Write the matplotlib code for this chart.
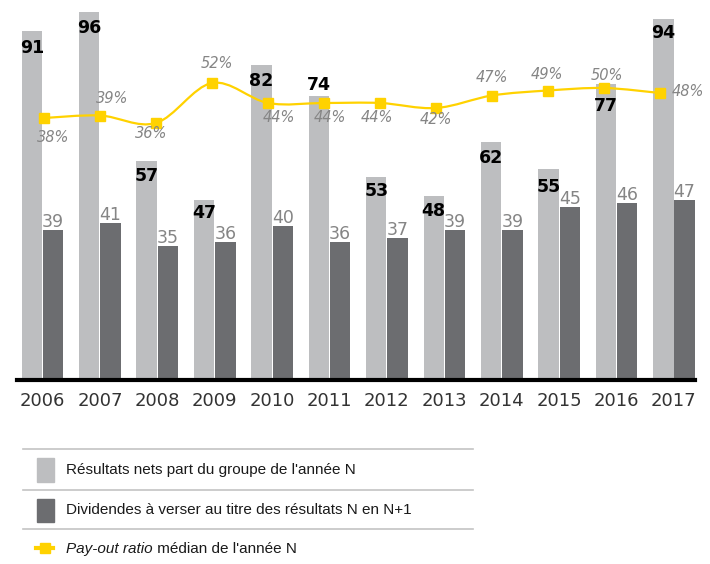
import numpy as np
import matplotlib
matplotlib.use("Agg")
from matplotlib import pyplot as plt
from matplotlib.path import Path
from matplotlib.patches import PathPatch, Rectangle
from matplotlib.lines import Line2D

# données
annees = ["2006", "2007", "2008", "2009", "2010", "2011",
          "2012", "2013", "2014", "2015", "2016", "2017"]
resultats = [91, 96, 57, 47, 82, 74, 53, 48, 62, 55, 77, 94]
dividendes = [39, 41, 35, 36, 40, 36, 37, 39, 39, 45, 46, 47]
payout = [38, 39, 36, 52, 44, 44, 44, 42, 47, 49, 50, 48]

legende = ["Résultats nets part du groupe de l'année N",
           "Dividendes à verser au titre des résultats N en N+1"]

# style
c_clair = "#bdbec0"
c_fonce = "#6c6d70"
c_jaune = "#ffd200"
c_gris_txt = "#858585"
police_leg = ["Liberation Sans", "DejaVu Sans"]

# décalages des étiquettes (pixels)
decal_res = [-17, -16, -15, -13, -16, 11, -14, -15, -16, -18, -22, -14]
decal_pct = [(9, -19), (12, 17), (-5, -11), (5, 20), (11, -15), (6, -15),
             (-3, -15), (0, -12), (0, 18), (-1, 16), (3, 13), (28, 1)]

fig = plt.figure(figsize=(7.1, 5.64), dpi=100)
rect = [17 / 710, 184 / 564, 678 / 710, 375 / 564]
ax = fig.add_axes(rect)
x = np.arange(len(annees))
w = 0.355
off = 0.185

ax.bar(x - off, resultats, w, color=c_clair, zorder=2)
ax.bar(x + off, dividendes, w, color=c_fonce, zorder=2)
ax.set_xlim(-0.444, 11.367)
ax.set_ylim(0, 97.7)

for s in ["top", "left", "right"]:
    ax.spines[s].set_visible(False)
ax.spines["bottom"].set_linewidth(3)
ax.spines["bottom"].set_color("black")
ax.spines["bottom"].set_zorder(5)
ax.set_yticks([])
ax.set_xticks(x)
ax.set_xticklabels(annees, fontsize=13, color="#333333")
ax.tick_params(axis="x", length=0, pad=9)

for i in range(len(annees)):
    ax.annotate(str(resultats[i]), (x[i] - off, resultats[i]),
                xytext=(0, decal_res[i]), textcoords="offset pixels",
                ha="center", va="center", fontsize=12.5, fontweight="bold",
                color="black", zorder=6)
    ax.annotate(str(dividendes[i]), (x[i] + off, dividendes[i]),
                xytext=(0, 3), textcoords="offset pixels",
                ha="center", va="baseline", fontsize=12.5,
                color=c_gris_txt, zorder=6)

# courbe du pay-out ratio sur ses propres axes (échelle x légèrement différente)
ax2 = fig.add_axes(rect)
ax2.set_xlim(-0.482, 11.625)
ax2.set_ylim(-66.8, 83.2)
ax2.axis("off")
pts = np.column_stack([x, payout]).astype(float)
verts = [tuple(pts[0])]
codes = [Path.MOVETO]
for i in range(len(pts) - 1):
    p0 = pts[i - 1] if i > 0 else pts[i]
    p1 = pts[i]
    p2 = pts[i + 1]
    p3 = pts[i + 2] if i + 2 < len(pts) else pts[i + 1]
    verts += [tuple(p1 + (p2 - p0) / 6), tuple(p2 - (p3 - p1) / 6), tuple(p2)]
    codes += [Path.CURVE4] * 3
ax2.add_patch(PathPatch(Path(verts, codes), fill=False, edgecolor=c_jaune,
                        lw=1.6, zorder=3))
ax2.plot(x, payout, ls="none", marker="s", ms=7.5, color=c_jaune, zorder=4)
for i in range(len(annees)):
    ax2.annotate(f"{payout[i]}%", (x[i], payout[i]), xytext=decal_pct[i],
                 textcoords="offset pixels", ha="center", va="center",
                 fontsize=10.5, style="italic", color=c_gris_txt, zorder=6)

# légende en bas
lg = fig.add_axes([0, 0, 1, 1])
lg.set_xlim(0, 710)
lg.set_ylim(564, 0)
lg.axis("off")
for yy in [449, 490, 529]:
    lg.add_line(Line2D([23, 473], [yy, yy], color="#c4c4c4", lw=1.2))
lg.add_patch(Rectangle((37, 458), 17, 24, color=c_clair))
lg.add_patch(Rectangle((37, 499), 17, 23, color=c_fonce))
lg.add_line(Line2D([36, 53], [548, 548], color=c_jaune, lw=3))
lg.plot([44.5], [548], marker="s", ms=7.5, color=c_jaune)
lg.text(66, 470, legende[0], fontsize=11, family=police_leg,
        color="#1a1a1a", va="center")
lg.text(66, 510, legende[1], fontsize=11, family=police_leg,
        color="#1a1a1a", va="center")
t = lg.text(66, 556, "Pay-out ratio", fontsize=11, family=police_leg,
            style="italic", color="#1a1a1a", va="bottom")
lg.annotate(" médian de l'année N", xy=(1, 0), xycoords=t, fontsize=11,
            family=police_leg, color="#1a1a1a", va="bottom")

plt.savefig("out.png", dpi=100)
